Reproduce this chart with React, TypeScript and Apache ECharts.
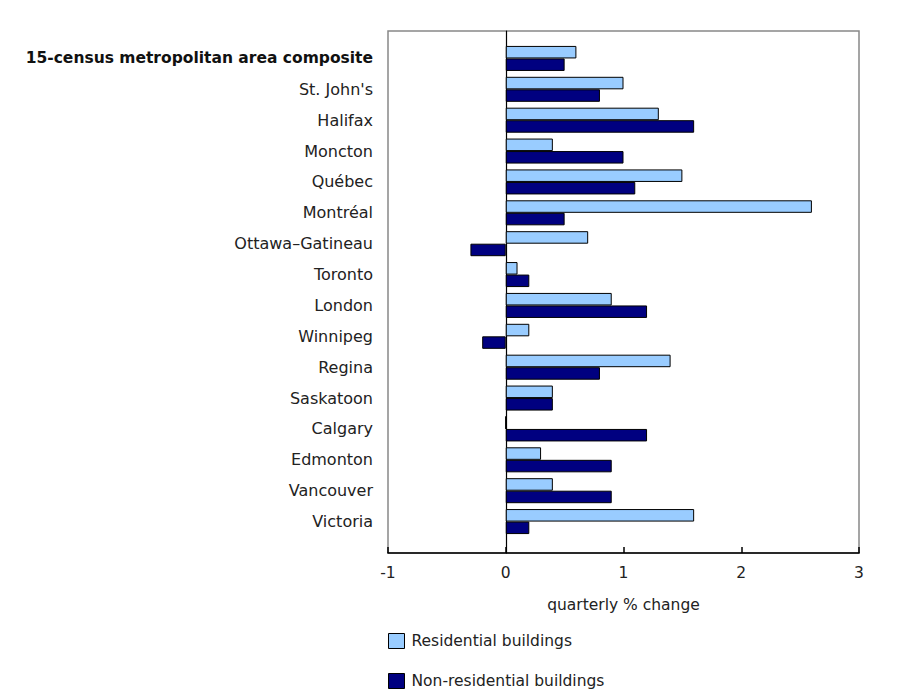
import React, { useEffect, useRef } from "react";
import * as echarts from "echarts";

const categories = [
  "15-census metropolitan area composite",
  "St. John's",
  "Halifax",
  "Moncton",
  "Québec",
  "Montréal",
  "Ottawa–Gatineau",
  "Toronto",
  "London",
  "Winnipeg",
  "Regina",
  "Saskatoon",
  "Calgary",
  "Edmonton",
  "Vancouver",
  "Victoria",
];
const residential = [0.6, 1.0, 1.3, 0.4, 1.5, 2.6, 0.7, 0.1, 0.9, 0.2, 1.4, 0.4, 0.0, 0.3, 0.4, 1.6];
const nonResidential = [0.5, 0.8, 1.6, 1.0, 1.1, 0.5, -0.3, 0.2, 1.2, -0.2, 0.8, 0.4, 1.2, 0.9, 0.9, 0.2];
const xMin = -1;
const xMax = 3;
const xInterval = 1;
const axisTitle = "quarterly % change";
const seriesNames = ["Residential buildings", "Non-residential buildings"];

const FONT = "DejaVu Sans, Verdana, sans-serif";
const FS = 15.5;
const FS_LABEL = 16;

export default function App() {
  const ref = useRef<HTMLDivElement>(null);
  useEffect(() => {
    document.body.style.margin = "0";
    const chart = echarts.init(ref.current!, null, { renderer: "svg" });
    const legendBase = {
      orient: "vertical",
      left: 388,
      padding: 0,
      icon: "rect",
      itemWidth: 16,
      itemHeight: 15,
      itemGap: 8,
      textStyle: { fontFamily: FONT, fontSize: FS, color: "#222", padding: [0, 0, 0, 2] },
    };
    chart.setOption({
      animation: false,
      textStyle: { fontFamily: FONT },
      legend: [
        { ...legendBase, top: 633, data: [{ name: seriesNames[0], itemStyle: { borderColor: "#000", borderWidth: 1 } }] },
        { ...legendBase, top: 673, data: [{ name: seriesNames[1], itemStyle: { borderColor: "#000", borderWidth: 1 } }] },
      ],
      grid: [
        { left: 388, right: 47, top: 31, bottom: 142, show: true, borderColor: "#888", borderWidth: 1.5, backgroundColor: "transparent" },
        { left: 388, right: 47, top: 43, bottom: 158 },
      ],
      xAxis: [
        {
          type: "value",
          gridIndex: 0,
          min: xMin,
          max: xMax,
          interval: xInterval,
          name: axisTitle,
          nameLocation: "middle",
          nameGap: 44,
          nameTextStyle: { fontFamily: FONT, fontSize: FS, color: "#222" },
          axisLine: { show: true, lineStyle: { color: "#000", width: 1.5 } },
          axisTick: { show: true, inside: true, length: 6, lineStyle: { color: "#000", width: 1.5 } },
          axisLabel: { fontFamily: FONT, fontSize: FS, color: "#222", margin: 12 },
          splitLine: { show: false },
        },
        {
          type: "value",
          gridIndex: 1,
          min: xMin,
          max: xMax,
          interval: xInterval,
          show: false,
          splitLine: { show: false },
        },
      ],
      yAxis: [
        {
          type: "value",
          gridIndex: 0,
          min: 0,
          max: 1,
          axisLine: { show: true, onZero: true, lineStyle: { color: "#000", width: 1.2 } },
          axisTick: { show: false },
          axisLabel: { show: false },
          splitLine: { show: false },
        },
        {
          type: "category",
          gridIndex: 1,
          inverse: true,
          data: categories,
          axisLine: { show: false },
          axisTick: { show: false },
          axisLabel: {
            margin: 15,
            fontFamily: FONT,
            fontSize: FS_LABEL,
            color: "#222",
            formatter: (v: string) => (v === categories[0] ? "{b|" + v + "}" : v),
            rich: { b: { fontWeight: "bold", fontFamily: FONT, fontSize: FS, color: "#111" } },
          },
        },
      ],
      series: [
        {
          name: seriesNames[0],
          type: "bar",
          xAxisIndex: 1,
          yAxisIndex: 1,
          data: residential,
          barGap: "0%",
          barCategoryGap: "19%",
          itemStyle: { color: "#99ccff", borderColor: "#000", borderWidth: 1 },
        },
        {
          name: seriesNames[1],
          type: "bar",
          xAxisIndex: 1,
          yAxisIndex: 1,
          data: nonResidential,
          barGap: "0%",
          barCategoryGap: "19%",
          itemStyle: { color: "#000080", borderColor: "#000", borderWidth: 1 },
        },
      ],
    });
    return () => chart.dispose();
  }, []);
  return <div ref={ref} style={{ width: 906, height: 695 }} />;
}
